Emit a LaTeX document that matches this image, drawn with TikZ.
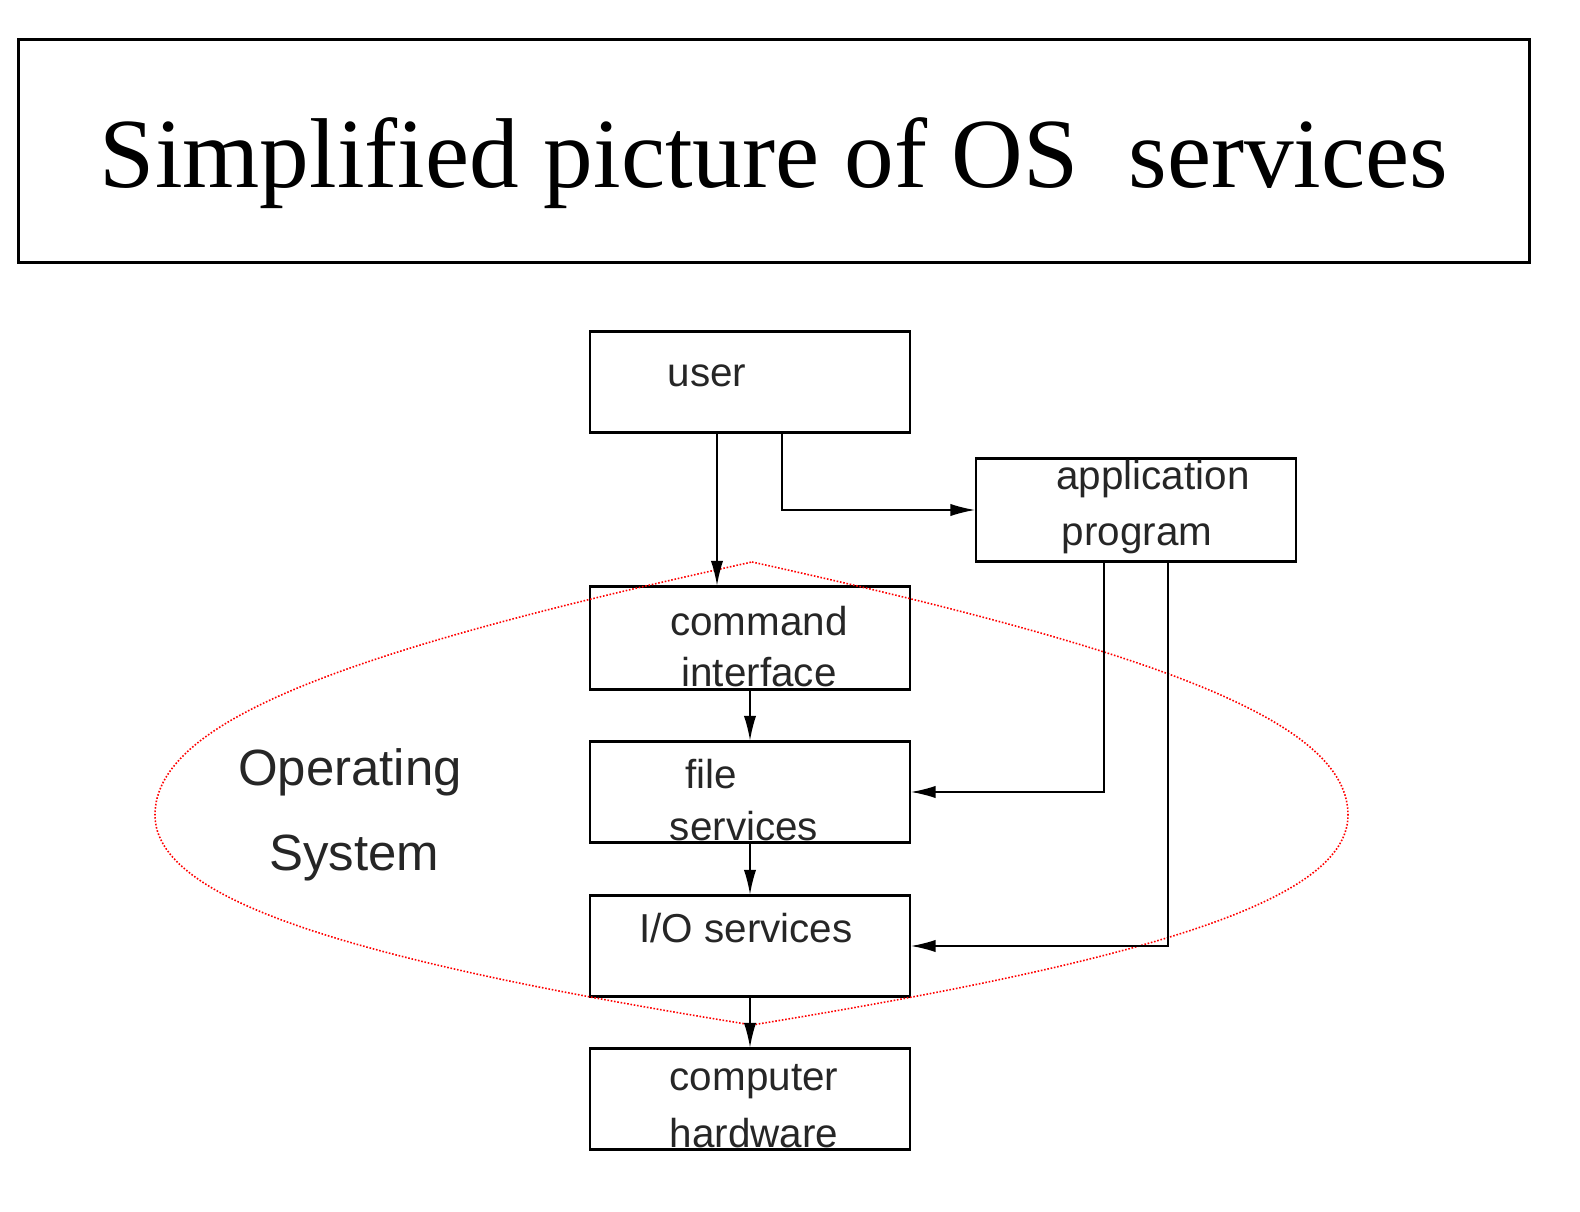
\documentclass[tikz,border=0pt]{standalone}
\usepackage{fontspec}
\setmainfont{Liberation Sans}
\newfontfamily\titlefont{Liberation Serif}
\usetikzlibrary{arrows.meta}
\begin{document}
\begin{tikzpicture}[x=0.02cm,y=-0.02cm,
  box/.style={draw,line width=1.2pt,minimum width=6.4cm,minimum height=2.02cm,inner sep=0},
  lbl/.style={font=\fontsize{23}{26}\selectfont,text=black!85},
  arr/.style={line width=0.8pt,-{Latex[length=14pt,width=7pt]}}]
\useasboundingbox (0,0) rectangle (1580,1212);
\node[draw,line width=1.6pt,minimum width=30.24cm,minimum height=4.46cm] (title) at (774,151) {};
\node[font=\titlefont\fontsize{56.5}{64}\selectfont] (tt) at (774,163) {Simplified picture of OS\ \ services};
\node[box] (user) at (750,382) {};
\node[box,minimum height=2.06cm] (app) at (1136,510) {};
\node[box,minimum height=2.06cm] (cmd) at (750,638) {};
\node[box] (file) at (750,792) {};
\node[box] (io) at (750,946) {};
\node[box] (hw) at (750,1099) {};
\node[lbl] (t1) at (707,376) {user};
\node[lbl] (t2) at (1153,479) {application};
\node[lbl] (t3) at (1137,539) {program};
\node[lbl] (t4) at (759,621) {command};
\node[lbl] (t5) at (759,672) {interface};
\node[lbl] (t6) at (711,774) {file};
\node[lbl] (t7) at (744,826) {services};
\node[lbl] (t8) at (746,928) {I/O services};
\node[lbl] (t9) at (754,1082) {computer};
\node[lbl] (t10) at (754,1133) {hardware};
\node[lbl,font=\fontsize{29}{33}\selectfont] (os1) at (350,772) {Operating};
\node[lbl,font=\fontsize{29}{33}\selectfont] (os2) at (354,858) {System};
\draw[red,densely dotted,line width=0.9pt] (752,562) .. controls (1150,650) and (1348,720) .. (1348,815)
  .. controls (1348,900) and (1150,960) .. (752,1025)
  .. controls (350,960) and (155,900) .. (155,815)
  .. controls (155,720) and (350,650) .. (752,562);
\coordinate (u1) at (717,433);
\coordinate (u2) at (782,433);
\draw[arr] (u1) -- (u1 |- cmd.north);
\draw[arr] (u2) |- (app.west);
\draw[arr] (cmd) -- (file);
\draw[arr] (file) -- (io);
\draw[arr] (io) -- (hw);
\coordinate (a1) at (1104,562);
\coordinate (a2) at (1168,562);
\draw[arr] (a1) |- (file.east);
\draw[arr] (a2) |- (io.east);
\end{tikzpicture}
\end{document}
